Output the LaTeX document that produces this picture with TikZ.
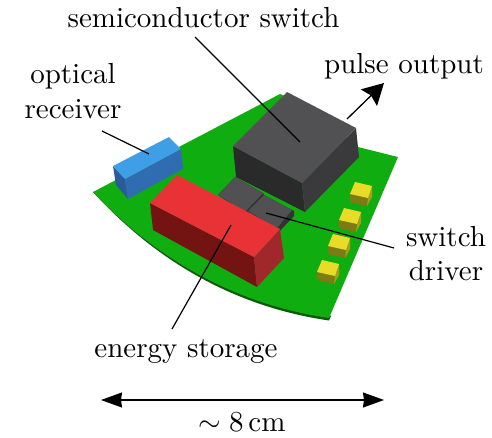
\documentclass[tikz,border=0pt]{standalone}
\usetikzlibrary{arrows.meta}
\definecolor{pcb}{HTML}{10AD10}
\definecolor{pcbedge}{HTML}{0A5A0A}
\definecolor{redtop}{HTML}{E83236}
\definecolor{redleft}{HTML}{731413}
\definecolor{redright}{HTML}{A0282B}
\definecolor{bluetop}{HTML}{3F9FE6}
\definecolor{bluefront}{HTML}{2F6CB0}
\definecolor{blueleft}{HTML}{2A5A9C}
\definecolor{boxtop}{HTML}{515153}
\definecolor{boxleft}{HTML}{2A2A2A}
\definecolor{boxright}{HTML}{3A3A3C}
\definecolor{chipside}{HTML}{333335}
\definecolor{padtop}{HTML}{E8DC28}
\definecolor{padfront}{HTML}{807A14}
\definecolor{padright}{HTML}{A89E1C}
\tikzset{
  lab/.style={font=\fontsize{10}{12}\selectfont,inner sep=0pt,align=center,text=black,scale=2.9,transform shape},
  leader/.style={draw=black,line width=1.2pt},
  bigarrow/.style={draw=black,line width=1.3pt,-{Stealth[length=21pt,width=23pt,inset=3pt]}},
  dimarrow/.style={draw=black,line width=1.4pt,{Stealth[length=21pt,width=15pt,inset=1pt]}-{Stealth[length=21pt,width=15pt,inset=1pt]}},
}
\newcommand{\padshape}[2]{%
  \begin{scope}[shift={(#1,#2)}]
    \fill[padfront] (0,0)--(18,4)--(17,12)--(0,8)--cycle;
    \fill[padright] (18,4)--(22,-8)--(22,3)--(17,12)--cycle;
    \fill[padtop] (0,0)--(5,-12)--(22,-8)--(18,4)--cycle;
  \end{scope}}
\begin{document}
\begin{tikzpicture}[x=1pt,y=-1pt]
\useasboundingbox (0,0) rectangle (492,437);
% board
\fill[pcbedge] (93,192) .. controls (160,265.5) and (240,307.5) .. (329,320.5) -- (331,316) -- cycle;
\fill[pcb] (93,192) -- (280,94) -- (300,102) -- (358,147) -- (398,157) -- (329,318)
  .. controls (240,305) and (160,263) .. (93,192) -- cycle;
% pads
\padshape{350}{194}
\padshape{339}{220}
\padshape{328}{246}
\padshape{317}{272}
% big box
\fill[boxleft] (233,146)--(302,183)--(305,212)--(236,177)--cycle;
\fill[boxright] (302,183)--(356,128)--(359,157)--(305,212)--cycle;
\fill[boxtop] (233,146)--(287,92)--(356,128)--(302,183)--cycle;
% chips
\fill[chipside] (218,195)--(235,177)--(263,193)--(265,197)--(247,216)--cycle;
\fill[chipside] (248,211)--(264,195)--(294,211)--(294,216)--(277,234)--cycle;
\fill[boxtop] (218,195)--(235,177)--(263,193)--(245,212)--cycle;
\fill[boxtop] (248,211)--(264,195)--(292,210)--(277,228)--cycle;
% blue box
\fill[blueleft] (113,166)--(125,179)--(128,199)--(116,185)--cycle;
\fill[bluefront] (125,179)--(181,149)--(183,169)--(128,199)--cycle;
\fill[bluetop] (113,166)--(169,137)--(181,149)--(125,179)--cycle;
% red box
\fill[redleft] (150,203)--(254,257)--(257,287)--(153,230)--cycle;
\fill[redright] (254,257)--(280,229)--(284,258)--(257,287)--cycle;
\fill[redtop] (150,203)--(177,175)--(280,229)--(254,257)--cycle;
% labels
\node[lab] (semi) at (203.5,18) {semiconductor switch};
\node[lab] (pulse) at (404,66) {pulse output};
\node[lab] (optical) at (73,91) {optical\\receiver};
\node[lab] (driver) at (446,253.5) {switch\\driver};
\node[lab] (storage) at (186,352) {energy storage};
\node[lab] (size) at (242,422) {$\sim 8\,\mathrm{cm}$};
% connector ends
\coordinate (semiA) at (195,37);
\coordinate (semiB) at (300,142);
\coordinate (optA) at (102,131);
\coordinate (optB) at (149,154);
\coordinate (stoA) at (172,329);
\coordinate (stoB) at (231,225);
\coordinate (drvA) at (394,248);
\coordinate (drvB) at (266,213);
\coordinate (outA) at (347,119);
\coordinate (outB) at (384,83);
\coordinate (dimA) at (101,400);
\coordinate (dimB) at (384,400);
\draw[leader] (semiA) -- (semiB);
\draw[leader] (optA) -- (optB);
\draw[leader] (stoA) -- (stoB);
\draw[leader] (drvA) -- (drvB);
\draw[bigarrow] (outA) -- (outB);
\draw[dimarrow] (dimA) -- (dimB);
\end{tikzpicture}
\end{document}
